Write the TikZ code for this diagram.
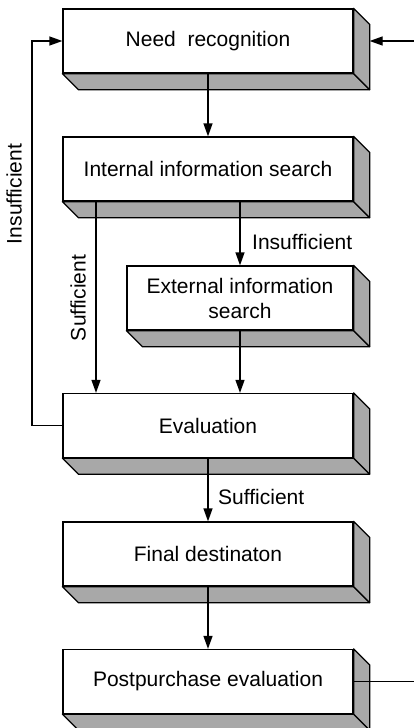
\documentclass[tikz,border=0pt]{standalone}
\usepackage{fontspec}
\setmainfont{Liberation Sans}
\usetikzlibrary{arrows.meta}
\definecolor{sidegray}{RGB}{168,168,168}
\tikzset{
  stage/.style={draw, line width=1.3pt, fill=white, minimum height=64pt,
    minimum width=290pt, align=center, inner sep=0pt,
    font=\fontsize{21}{25}\selectfont},
  face/.style={draw, line width=1.3pt, fill=sidegray, line join=round},
  conn/.style={line width=1.3pt},
  arr/.style={conn, -{Triangle[length=13pt,width=9pt]}},
  lbl/.style={inner sep=0pt, font=\fontsize{21}{25}\selectfont},
}
\begin{document}
\begin{tikzpicture}[x=1pt, y=-1pt]
\useasboundingbox (0,0) rectangle (414,728);

% front faces of the stages
\node[stage] (need)     at (208,41)    {Need\ \ recognition};
\node[stage] (internal) at (208,169)   {Internal information search};
\node[stage, minimum width=226pt] (external) at (240,298) {External information\\search};
\node[stage] (eval)     at (208,425.5) {Evaluation};
\node[stage] (final)    at (208,554)   {Final destinaton};
\node[stage] (post)     at (208,681.5) {Postpurchase evaluation};

% extruded bottom and right faces
\foreach \n in {need,internal,external,eval,final,post}{
  \draw[face] (\n.south west) -- (\n.south east) -- ++(16,16)
    -- ([shift={(16,16)}]\n.south west) -- cycle;
  \draw[face] (\n.north east) -- ++(16,16)
    -- ([shift={(16,16)}]\n.south east) -- (\n.south east) -- cycle;
}

% guide coordinates for the side routes
\coordinate (lx) at (32,0);
\coordinate (sx) at (96,0);
\coordinate (rx) at (414,0);

% connectors
\draw[arr] (need) -- (internal);
\draw[arr] (internal.south -| external) -- (external);
\draw[arr] (internal.south -| sx) -- (eval.north -| sx);
\draw[arr] (external) -- (eval.north -| external);
\draw[arr] (eval.west) -- (eval.west -| lx) -- (need.west -| lx) -- (need.west);
\draw[arr] (eval) -- (final);
\draw[arr] (final) -- (post);
\draw[conn] (post.east) -- (post.east -| rx);
\draw[arr] (need.east -| rx) -- ([xshift=16pt]need.east);

% labels
\node[lbl, anchor=west] (ins1) at (252,242) {Insufficient};
\node[lbl, rotate=90] (suf1) at (78,298) {Sufficient};
\node[lbl, rotate=90] (ins2) at (14,194) {Insufficient};
\node[lbl, anchor=west] (suf2) at (218,497) {Sufficient};
\end{tikzpicture}
\end{document}
